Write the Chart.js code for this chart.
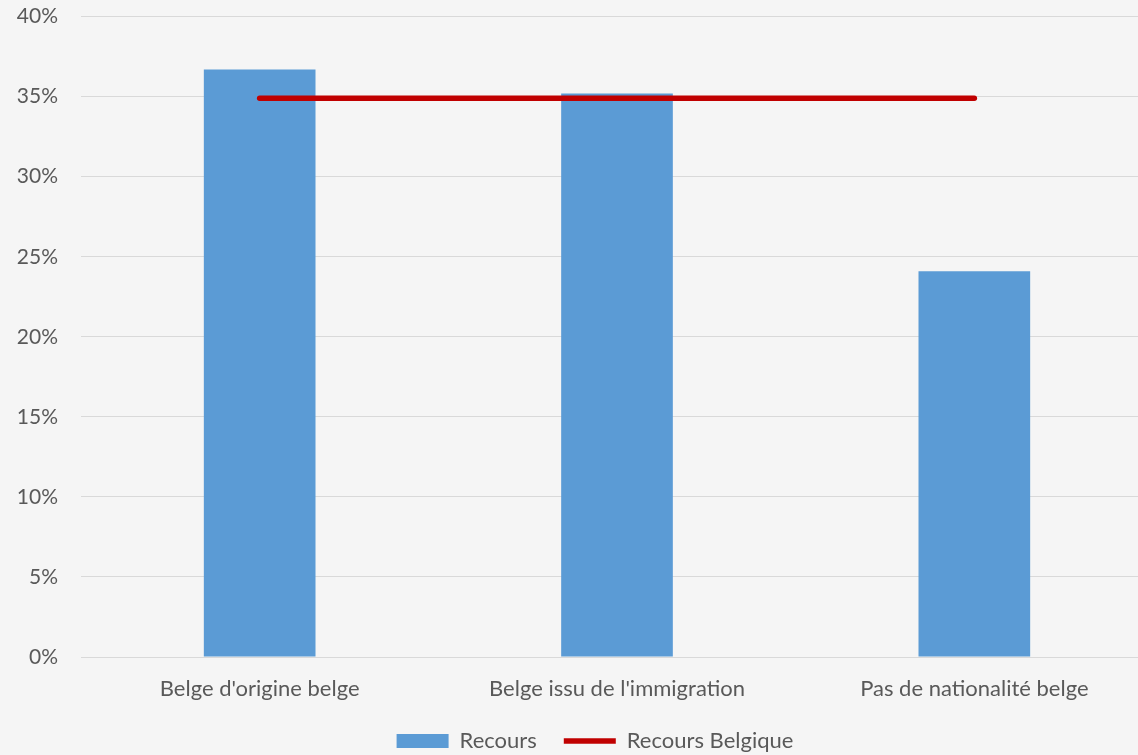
<!DOCTYPE html>
<html>
<head>
<meta charset="utf-8">
<script src="https://cdn.jsdelivr.net/npm/chart.js@4.4.1/dist/chart.umd.min.js"></script>
<style>
  html, body { margin: 0; padding: 0; background: #f5f5f5; overflow: hidden; }
  #wrap { position: absolute; left: 0; top: -19px; width: 1190px; height: 781px; }
</style>
</head>
<body>
<div id="wrap"><canvas id="c"></canvas></div>
<script>
const categories = ["Belge d'origine belge", "Belge issu de l'immigration", "Pas de nationalité belge"];
const recours = [36.7, 35.2, 24.1];
const recoursBelgique = [34.9, 34.9, 34.9];
const yTicks = [0, 5, 10, 15, 20, 25, 30, 35, 40];

const textColor = '#595959';
const fontFamily = 'Lato, "Open Sans", sans-serif';

const legendShift = {
  id: 'legendShift',
  afterLayout(chart) {
    if (chart.legend) {
      chart.legend.left -= 22;
      chart.legend.right -= 22;
    }
  }
};

new Chart(document.getElementById('c'), {
  plugins: [legendShift],
  data: {
    labels: categories,
    datasets: [
      {
        type: 'line',
        label: 'Recours Belgique',
        data: recoursBelgique,
        borderColor: '#C00000',
        backgroundColor: '#C00000',
        borderWidth: 5.5,
        borderCapStyle: 'round',
        pointRadius: 0,
        pointHoverRadius: 0,
        pointStyle: 'line',
        order: 0
      },
      {
        type: 'bar',
        label: 'Recours',
        data: recours,
        backgroundColor: '#5B9BD5',
        borderWidth: 0,
        categoryPercentage: 1.0,
        barPercentage: 0.3125,
        pointStyle: 'rect',
        order: 1
      }
    ]
  },
  options: {
    responsive: true,
    maintainAspectRatio: false,
    animation: false,
    layout: { padding: { left: 0, right: 37, top: 6, bottom: 0 } },
    plugins: {
      tooltip: { enabled: false },
      legend: {
        position: 'bottom',
        fullSize: false,
        reverse: true,
        labels: {
          usePointStyle: true,
          pointStyleWidth: 52,
          boxHeight: 14,
          padding: 27,
          color: textColor,
          font: { family: fontFamily, size: 22 }
        }
      }
    },
    scales: {
      x: {
        afterFit: (scale) => { scale.height = 46; },
        grid: { display: false, drawTicks: false },
        border: { display: true, color: '#D9D9D9', width: 1 },
        ticks: { color: textColor, font: { family: fontFamily, size: 22 }, padding: 19, maxRotation: 0 }
      },
      y: {
        min: 0,
        max: 40,
        afterFit: (scale) => { scale.width = 81; },
        afterBuildTicks: (axis) => { axis.ticks = yTicks.map(v => ({ value: v })); },
        grid: { color: '#D9D9D9', lineWidth: 1, drawTicks: false },
        border: { display: false },
        ticks: {
          color: textColor,
          font: { family: fontFamily, size: 21 },
          padding: 23,
          callback: (v) => v + '%'
        }
      }
    }
  }
});
</script>
</body>
</html>
